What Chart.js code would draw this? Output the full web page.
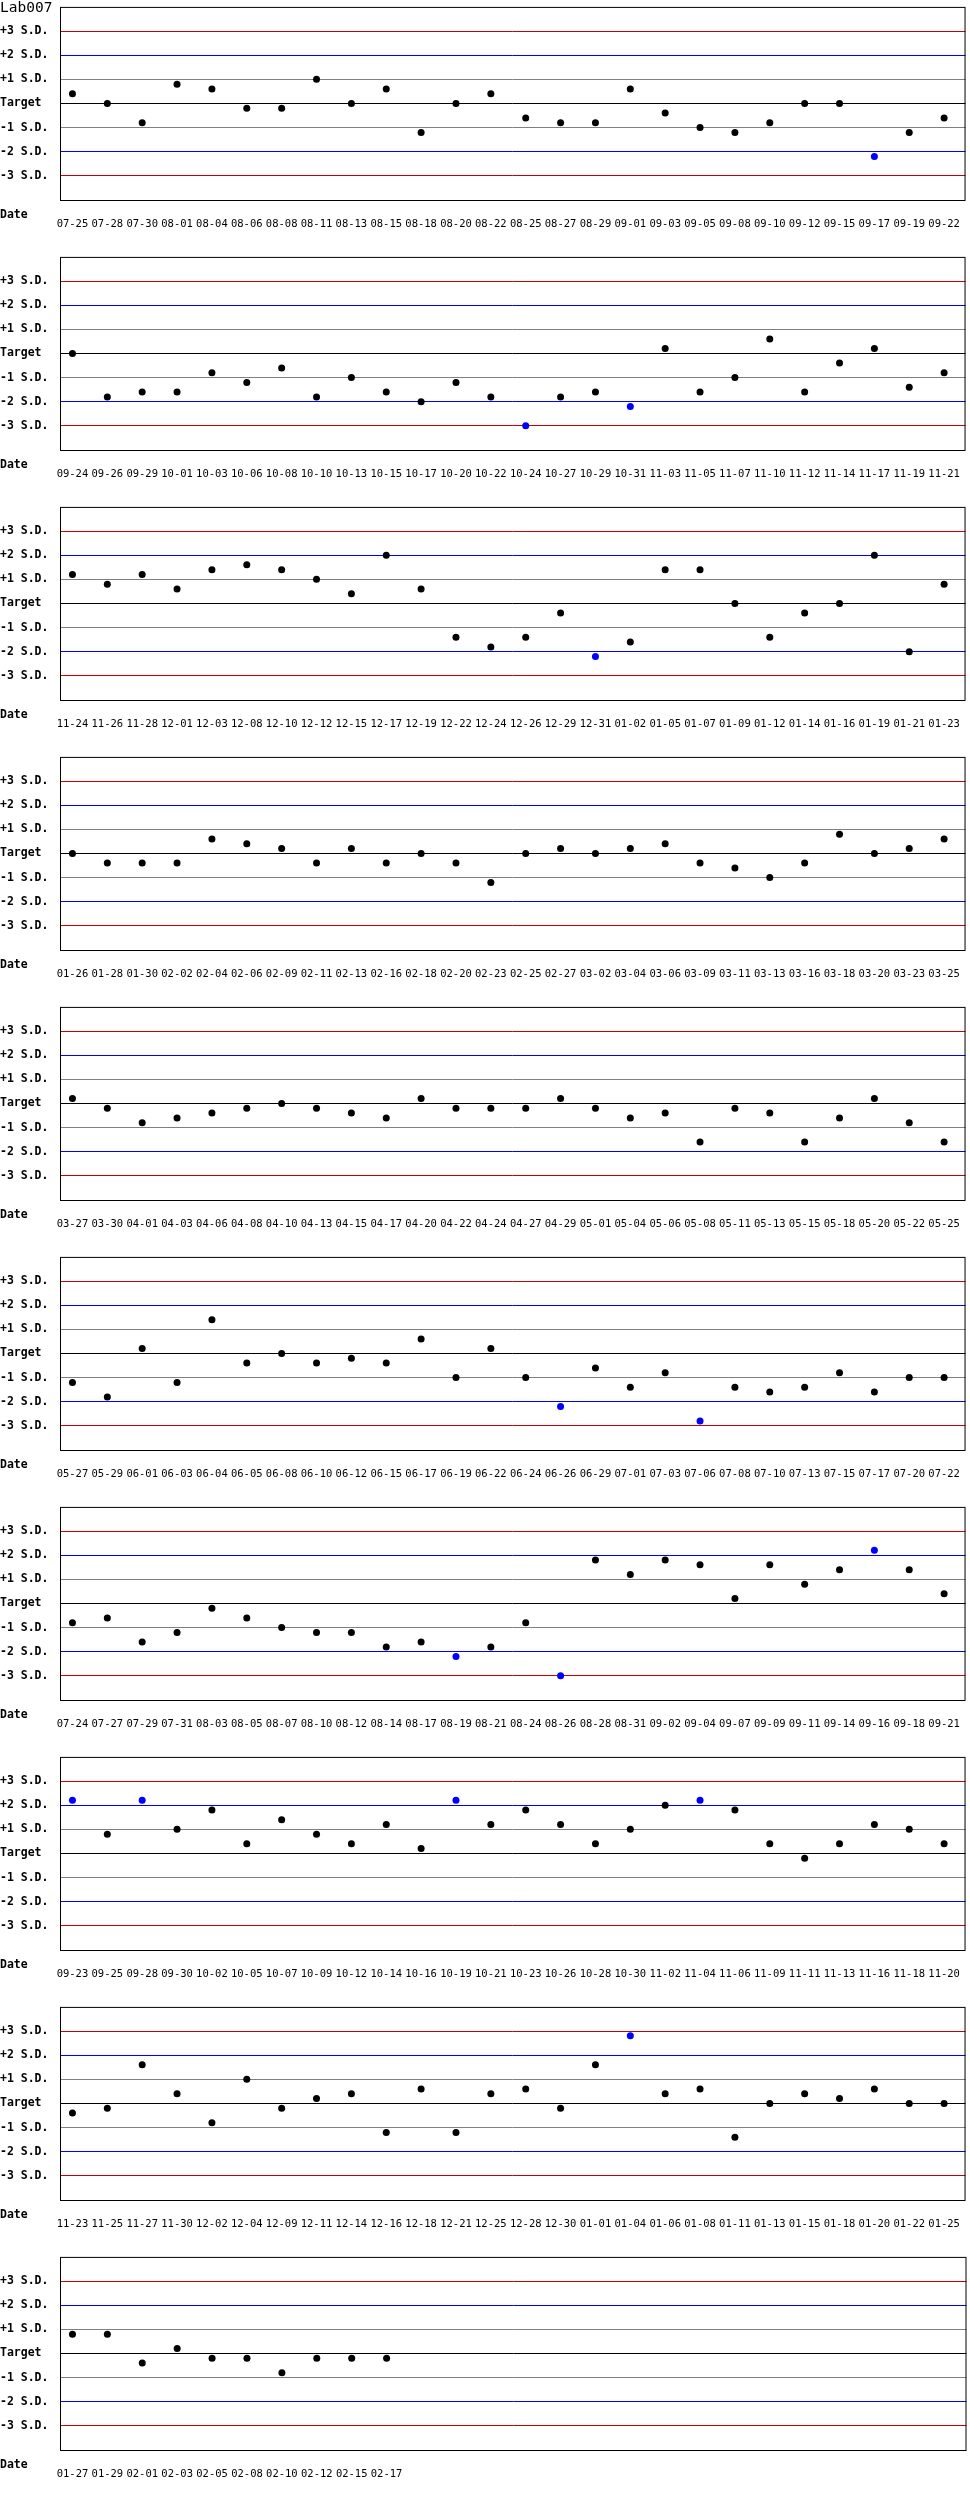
<!DOCTYPE html>
<html>
<head>
<meta charset="utf-8">
<title>Lab007</title>
<script src="https://cdn.jsdelivr.net/npm/chart.js@4.4.1/dist/chart.umd.min.js"></script>
<style>
  body { margin: 0; background: #fff; }
  canvas { display: block; }
</style>
</head>
<body>
<div id="charts"></div>
<script>
// one date label and one S.D. value per run, in order (26 runs per strip)
const dates = [
  '07-25','07-28','07-30','08-01','08-04','08-06','08-08','08-11','08-13','08-15','08-18','08-20','08-22','08-25','08-27','08-29','09-01','09-03','09-05','09-08','09-10','09-12','09-15','09-17','09-19','09-22',
  '09-24','09-26','09-29','10-01','10-03','10-06','10-08','10-10','10-13','10-15','10-17','10-20','10-22','10-24','10-27','10-29','10-31','11-03','11-05','11-07','11-10','11-12','11-14','11-17','11-19','11-21',
  '11-24','11-26','11-28','12-01','12-03','12-08','12-10','12-12','12-15','12-17','12-19','12-22','12-24','12-26','12-29','12-31','01-02','01-05','01-07','01-09','01-12','01-14','01-16','01-19','01-21','01-23',
  '01-26','01-28','01-30','02-02','02-04','02-06','02-09','02-11','02-13','02-16','02-18','02-20','02-23','02-25','02-27','03-02','03-04','03-06','03-09','03-11','03-13','03-16','03-18','03-20','03-23','03-25',
  '03-27','03-30','04-01','04-03','04-06','04-08','04-10','04-13','04-15','04-17','04-20','04-22','04-24','04-27','04-29','05-01','05-04','05-06','05-08','05-11','05-13','05-15','05-18','05-20','05-22','05-25',
  '05-27','05-29','06-01','06-03','06-04','06-05','06-08','06-10','06-12','06-15','06-17','06-19','06-22','06-24','06-26','06-29','07-01','07-03','07-06','07-08','07-10','07-13','07-15','07-17','07-20','07-22',
  '07-24','07-27','07-29','07-31','08-03','08-05','08-07','08-10','08-12','08-14','08-17','08-19','08-21','08-24','08-26','08-28','08-31','09-02','09-04','09-07','09-09','09-11','09-14','09-16','09-18','09-21',
  '09-23','09-25','09-28','09-30','10-02','10-05','10-07','10-09','10-12','10-14','10-16','10-19','10-21','10-23','10-26','10-28','10-30','11-02','11-04','11-06','11-09','11-11','11-13','11-16','11-18','11-20',
  '11-23','11-25','11-27','11-30','12-02','12-04','12-09','12-11','12-14','12-16','12-18','12-21','12-25','12-28','12-30','01-01','01-04','01-06','01-08','01-11','01-13','01-15','01-18','01-20','01-22','01-25',
  '01-27','01-29','02-01','02-03','02-05','02-08','02-10','02-12','02-15','02-17'
];

const sdValues = [
  0.4, 0, -0.8, 0.8, 0.6, -0.2, -0.2, 1.0, 0, 0.6, -1.2, 0, 0.4, -0.6, -0.8, -0.8, 0.6, -0.4, -1.0, -1.2, -0.8, 0, 0, -2.2, -1.2, -0.6,
  0, -1.8, -1.6, -1.6, -0.8, -1.2, -0.6, -1.8, -1.0, -1.6, -2.0, -1.2, -1.8, -3.0, -1.8, -1.6, -2.2, 0.2, -1.6, -1.0, 0.6, -1.6, -0.4, 0.2, -1.4, -0.8,
  1.2, 0.8, 1.2, 0.6, 1.4, 1.6, 1.4, 1.0, 0.4, 2.0, 0.6, -1.4, -1.8, -1.4, -0.4, -2.2, -1.6, 1.4, 1.4, 0, -1.4, -0.4, 0, 2.0, -2.0, 0.8,
  0, -0.4, -0.4, -0.4, 0.6, 0.4, 0.2, -0.4, 0.2, -0.4, 0, -0.4, -1.2, 0, 0.2, 0, 0.2, 0.4, -0.4, -0.6, -1.0, -0.4, 0.8, 0, 0.2, 0.6,
  0.2, -0.2, -0.8, -0.6, -0.4, -0.2, 0, -0.2, -0.4, -0.6, 0.2, -0.2, -0.2, -0.2, 0.2, -0.2, -0.6, -0.4, -1.6, -0.2, -0.4, -1.6, -0.6, 0.2, -0.8, -1.6,
  -1.2, -1.8, 0.2, -1.2, 1.4, -0.4, 0, -0.4, -0.2, -0.4, 0.6, -1.0, 0.2, -1.0, -2.2, -0.6, -1.4, -0.8, -2.8, -1.4, -1.6, -1.4, -0.8, -1.6, -1.0, -1.0,
  -0.8, -0.6, -1.6, -1.2, -0.2, -0.6, -1.0, -1.2, -1.2, -1.8, -1.6, -2.2, -1.8, -0.8, -3.0, 1.8, 1.2, 1.8, 1.6, 0.2, 1.6, 0.8, 1.4, 2.2, 1.4, 0.4,
  2.2, 0.8, 2.2, 1.0, 1.8, 0.4, 1.4, 0.8, 0.4, 1.2, 0.2, 2.2, 1.2, 1.8, 1.2, 0.4, 1.0, 2.0, 2.2, 1.8, 0.4, -0.2, 0.4, 1.2, 1.0, 0.4,
  -0.4, -0.2, 1.6, 0.4, -0.8, 1.0, -0.2, 0.2, 0.4, -1.2, 0.6, -1.2, 0.4, 0.6, -0.2, 1.6, 2.8, 0.4, 0.6, -1.4, 0, 0.4, 0.2, 0.6, 0, 0,
  0.8, 0.8, -0.4, 0.2, -0.2, -0.2, -0.8, -0.2, -0.2, -0.2
];

const sdTicks = [3, 2, 1, 0, -1, -2, -3];
const sdTickLabels = ['+3 S.D.', '+2 S.D.', '+1 S.D.', 'Target', '-1 S.D.', '-2 S.D.', '-3 S.D.'];
const labName = 'Lab007';
const perPanel = 26;

const W = 970, H = 250;
const SLOT = 35;            // px between runs
const FIRST = 12.5;         // px from plot left to first run
const PLOT_W = 909;
const xMin = -FIRST / SLOT;
const xMax = xMin + PLOT_W / SLOT;

function lineColor(v) {
    const a = Math.abs(v);
    if (a === 3) return '#cc0000';
    if (a === 2) return '#0000ff';
    if (a === 1) return '#808080';
    return '#000000';
}

// box round the plot, "Date" caption and the lab name
const framePlugin = {
    id: 'frame',
    afterDraw(chart, args, opts) {
        const { ctx, chartArea: a } = chart;
        ctx.save();
        ctx.strokeStyle = '#000';
        ctx.lineWidth = 1;
        ctx.strokeRect(a.left + 0.5, a.top + 0.5, a.right - a.left - 1, a.bottom - a.top);
        ctx.fillStyle = '#000';
        ctx.textAlign = 'left';
        ctx.textBaseline = 'middle';
        ctx.font = 'bold 11.5px "DejaVu Sans Mono"';
        ctx.fillText('Date', 0, a.bottom + 15);
        if (opts.title) {
            ctx.font = '14.5px "DejaVu Sans Mono"';
            ctx.fillText(opts.title, 0, 8);
        }
        ctx.restore();
    }
};

const holder = document.getElementById('charts');
const panelCount = Math.ceil(dates.length / perPanel);

for (let p = 0; p < panelCount; p++) {
    const labels = dates.slice(p * perPanel, (p + 1) * perPanel);
    const values = sdValues.slice(p * perPanel, (p + 1) * perPanel);
    const points = values.map((v, i) => ({ x: i, y: v }));

    const canvas = document.createElement('canvas');
    canvas.width = W;
    canvas.height = H;
    holder.appendChild(canvas);

    new Chart(canvas.getContext('2d'), {
        type: 'scatter',
        data: {
            datasets: [{
                data: points,
                pointRadius: 3.5,
                pointHoverRadius: 3.5,
                borderWidth: 0,
                backgroundColor: c => (c.raw && Math.abs(c.raw.y) > 2 ? '#0000ff' : '#000000')
            }]
        },
        options: {
            responsive: false,
            animation: false,
            devicePixelRatio: 1,
            layout: { padding: { top: 0, right: 1, bottom: 0, left: 0 } },
            plugins: {
                legend: { display: false },
                tooltip: { enabled: false },
                frame: { title: p === 0 ? labName : '' }
            },
            scales: {
                x: {
                    type: 'linear',
                    min: xMin,
                    max: xMax,
                    afterBuildTicks: s => { s.ticks = labels.map((_, i) => ({ value: i })); },
                    afterFit: s => { s.height = 50; },
                    grid: { display: false },
                    border: { display: false },
                    ticks: {
                        autoSkip: false,
                        maxRotation: 0,
                        padding: 10,
                        color: '#000',
                        font: { family: 'DejaVu Sans Mono', size: 10.5 },
                        callback: v => labels[v]
                    }
                },
                y: {
                    min: -4,
                    max: 4,
                    afterBuildTicks: s => { s.ticks = sdTicks.map(v => ({ value: v })); },
                    afterFit: s => { s.width = 60; },
                    grid: {
                        color: c => lineColor(c.tick.value),
                        lineWidth: 1,
                        drawTicks: false
                    },
                    border: { display: false },
                    ticks: {
                        autoSkip: false,
                        crossAlign: 'far',
                        padding: 0,
                        color: '#000',
                        font: { family: 'DejaVu Sans Mono', size: 11.5, weight: 'bold' },
                        callback: v => sdTickLabels[sdTicks.indexOf(v)]
                    }
                }
            }
        },
        plugins: [framePlugin]
    });
}
</script>
</body>
</html>
